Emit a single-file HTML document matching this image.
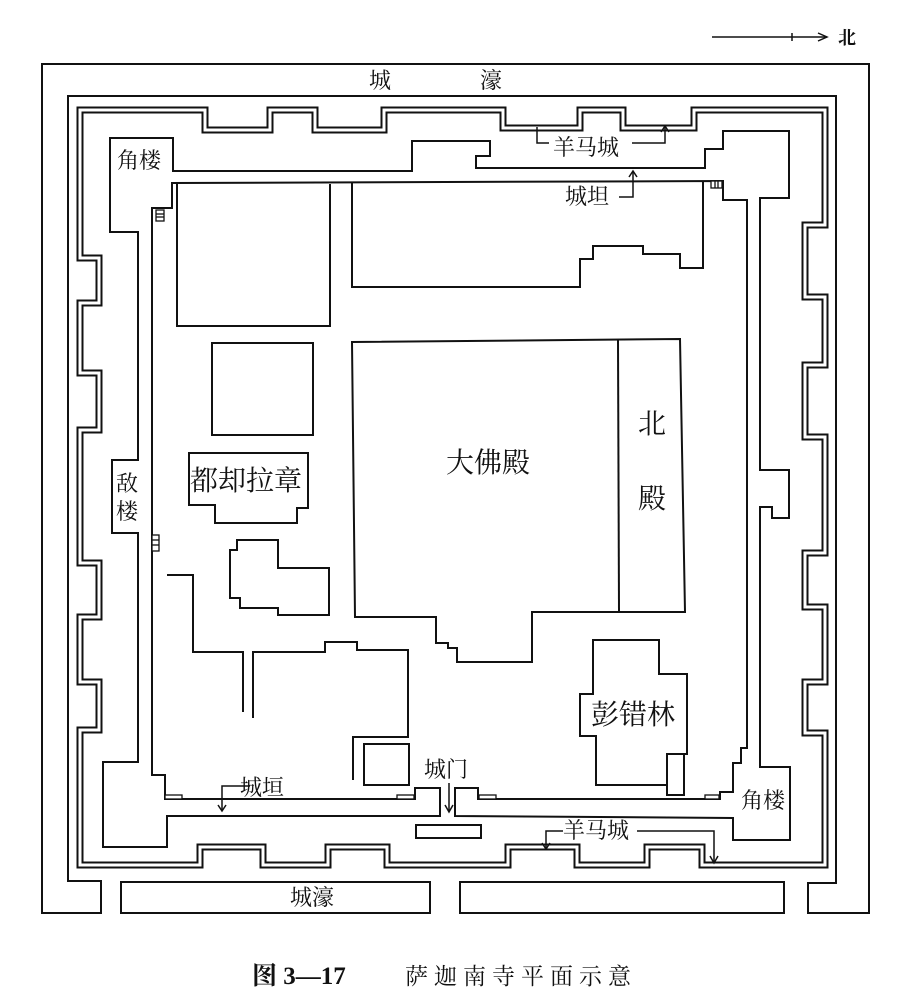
<!DOCTYPE html>
<html><head><meta charset="utf-8"><style>
html,body{margin:0;padding:0;background:#fff;}
svg{display:block;}
text{font-family:"Liberation Serif","Noto Serif CJK SC",serif;fill:#111;}
</style></head><body>
<svg width="900" height="1007" viewBox="0 0 900 1007" xmlns="http://www.w3.org/2000/svg">
<rect width="900" height="1007" fill="#fff"/>
<g fill="none" stroke="#111" stroke-width="2" stroke-linejoin="miter">
<!-- moat -->
<path d="M101,881 L101,913 L42,913 L42,64 L869,64 L869,913 L808,913 L808,883 L836,883 L836,96 L68,96 L68,881 Z"/>
<rect x="121" y="882" width="309" height="31"/>
<rect x="460" y="882" width="324" height="31"/>
</g>
<!-- city wall double line -->
<path id="wall" d="M80,110 L205,110 L205,130 L270,130 L270,110 L315,110 L315,130 L384,130 L384,110 L503,110 L503,128 L580,128 L580,110 L623,110 L623,128 L694,128 L694,110 L825,110 L825,225 L805,225 L805,297 L825,297 L825,365 L805,365 L805,437 L825,437 L825,553 L805,553 L805,607 L825,607 L825,682 L805,682 L805,733 L825,733 L825,865 L702,865 L702,847 L647,847 L647,865 L577,865 L577,847 L508,847 L508,865 L387,865 L387,847 L328,847 L328,865 L263,865 L263,847 L200,847 L200,865 L80,865 L80,730 L99,730 L99,682 L80,682 L80,617 L99,617 L99,563 L80,563 L80,430 L99,430 L99,373 L80,373 L80,303 L99,303 L99,258 L80,258 Z" fill="none" stroke="#111" stroke-width="7"/>
<path d="M80,110 L205,110 L205,130 L270,130 L270,110 L315,110 L315,130 L384,130 L384,110 L503,110 L503,128 L580,128 L580,110 L623,110 L623,128 L694,128 L694,110 L825,110 L825,225 L805,225 L805,297 L825,297 L825,365 L805,365 L805,437 L825,437 L825,553 L805,553 L805,607 L825,607 L825,682 L805,682 L805,733 L825,733 L825,865 L702,865 L702,847 L647,847 L647,865 L577,865 L577,847 L508,847 L508,865 L387,865 L387,847 L328,847 L328,865 L263,865 L263,847 L200,847 L200,865 L80,865 L80,730 L99,730 L99,682 L80,682 L80,617 L99,617 L99,563 L80,563 L80,430 L99,430 L99,373 L80,373 L80,303 L99,303 L99,258 L80,258 Z" fill="none" stroke="#fff" stroke-width="3"/>
<g fill="none" stroke="#111" stroke-width="2">
<!-- inner ring -->
<path d="M455,816 L733,818 L733,840 L790,840 L790,767 L760,767 L760,507 L772,507 L772,518 L789,518 L789,470 L760,470 L760,198 L789,198 L789,131 L723,131 L723,149 L705,149 L705,168 L476,168 L476,156 L490,156 L490,141 L412,141 L412,171 L173,171 L173,138 L110,138 L110,232 L138,232 L138,460 L112,460 L112,533 L138,533 L138,762 L103,762 L103,847 L167,847 L167,816 L440,816 L440,788 L415,788 L415,799 L165,799 L165,775 L152,775 L152,208 L172,208 L172,183 L723,181 L723,200 L747,200 L747,748 L741,748 L741,763 L733,763 L733,792 L720,792 L720,799 L478,799 L478,788 L455,788 Z"/>
<!-- buildings -->
<path d="M177,184 L177,326 L330,326 L330,184"/>
<path d="M352,183 L352,287 L580,287 L580,259 L593,259 L593,246 L643,246 L643,254 L680,254 L680,268 L703,268 L703,181"/>
<rect x="212" y="343" width="101" height="92"/>
<path d="M352,342 L680,339 L685,612 L532,612 L532,662 L457,662 L457,648 L448,648 L448,643 L436,643 L436,617 L355,617 Z"/>
<line x1="618" y1="340" x2="619" y2="612"/>
<path d="M189,453 L308,453 L308,508 L297,508 L297,523 L215,523 L215,505 L189,505 Z"/>
<path d="M237,540 L278,540 L278,568 L329,568 L329,615 L278,615 L278,608 L240,608 L240,598 L230,598 L230,550 L237,550 Z"/>
<path d="M167,575 L193,575 L193,652 L243,652 L243,712"/>
<path d="M253,718 L253,652 L325,652 L325,642 L357,642 L357,650 L408,650 L408,737 L353,737 L353,780"/>
<rect x="364" y="744" width="45" height="41"/>
<rect x="416" y="825" width="65" height="13"/>
<path d="M593,640 L659,640 L659,674 L687,674 L687,754 L667,754 L667,785 L596,785 L596,736 L580,736 L580,694 L593,694 Z"/>
<rect x="667" y="754" width="17" height="41"/>
</g>
<!-- stair hatches -->
<g fill="#fff" stroke="#111" stroke-width="1.3">
<rect x="156" y="210" width="8" height="11"/><line x1="156" y1="214" x2="164" y2="214"/><line x1="156" y1="217" x2="164" y2="217"/>
<rect x="152" y="535" width="7" height="16"/><line x1="152" y1="540" x2="159" y2="540"/><line x1="152" y1="545" x2="159" y2="545"/>
<rect x="165" y="795" width="17" height="4"/>
<rect x="397" y="795" width="17" height="4"/>
<rect x="479" y="795" width="17" height="4"/>
<rect x="705" y="795" width="14" height="4"/>
<rect x="711" y="181" width="11" height="7"/><line x1="715" y1="181" x2="715" y2="188"/><line x1="718" y1="181" x2="718" y2="188"/>
</g>
<!-- leader lines -->
<g fill="none" stroke="#111" stroke-width="1.5">
<path d="M549,143 L537,143 L537,127"/>
<path d="M632,143 L665,143 L665,127"/><path d="M661,132 L665,126 L669,132"/>
<path d="M619,197 L633,197 L633,172"/><path d="M629,177 L633,171 L637,177"/>
<path d="M250,786 L222,786 L222,810"/><path d="M218,805 L222,811 L226,805"/>
<path d="M449,783 L449,811"/><path d="M445,805 L449,812 L453,805"/>
<path d="M563,831 L546,831 L546,848"/><path d="M542,843 L546,849 L550,843"/>
<path d="M637,831 L714,831 L714,862"/><path d="M710,856 L714,863 L718,856"/>
<path d="M712,37 L827,37"/><path d="M792,33 L792,41"/><path d="M818,33 L827,37 L818,41"/>
</g>
<!-- labels -->
<g font-size="22">
<text x="369" y="88">城</text>
<text x="480" y="88">濠</text>
<text x="117" y="168">角楼</text>
<text x="553" y="155">羊马城</text>
<text x="565" y="204">城坦</text>
<text x="116" y="491">敌</text>
<text x="116" y="519">楼</text>
<text x="240" y="795">城垣</text>
<text x="424" y="777">城门</text>
<text x="741" y="808">角楼</text>
<text x="563" y="838">羊马城</text>
<text x="290" y="905">城濠</text>
<text x="838" y="44" font-size="18" font-weight="bold">北</text>
</g>
<g font-size="28">
<text x="190" y="490">都却拉章</text>
<text x="446" y="472">大佛殿</text>
<text x="638" y="433">北</text>
<text x="638" y="508">殿</text>
<text x="591" y="724">彭错林</text>
</g>
<text x="252" y="984" font-size="25" font-weight="bold">图 3—17</text>
<text x="405" y="984" font-size="23" letter-spacing="6">萨迦南寺平面示意</text>
</svg>
</body></html>
